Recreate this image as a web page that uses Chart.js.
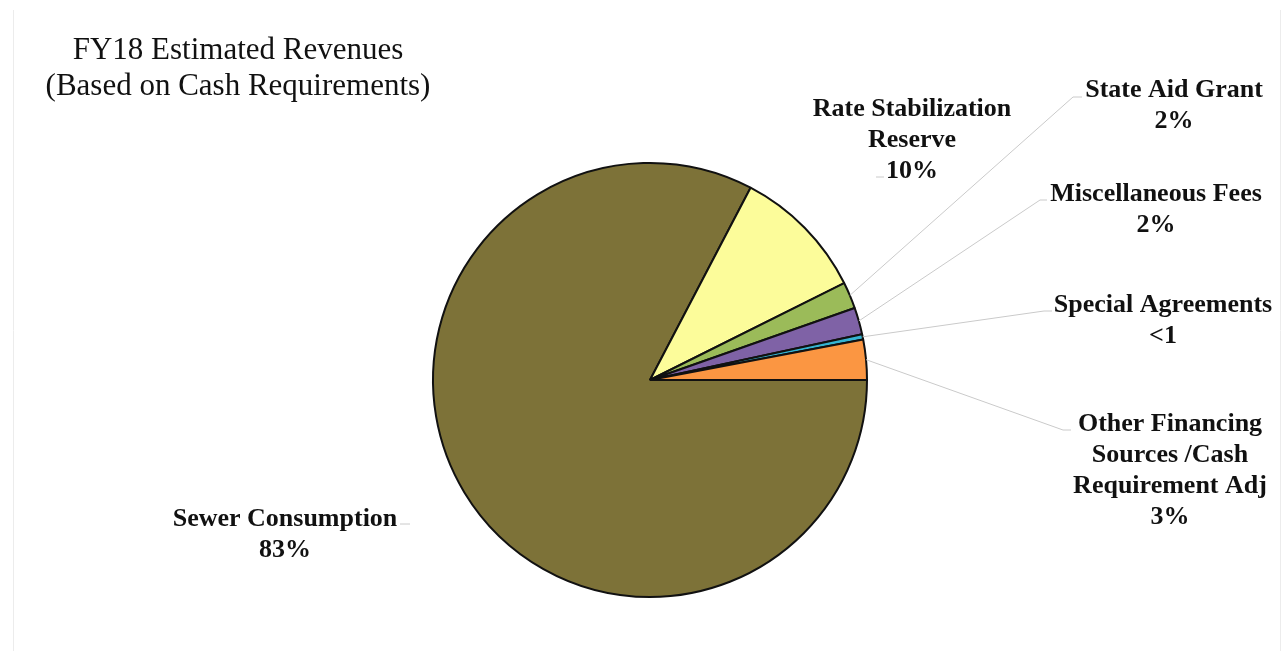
<!DOCTYPE html>
<html>
<head>
<meta charset="utf-8">
<title>FY18 Estimated Revenues</title>
<script src="https://cdn.jsdelivr.net/npm/chart.js@4.4.1/dist/chart.umd.min.js"></script>
<style>
  html, body { margin: 0; padding: 0; background: #fff; }
  #revenueChart { display: block; }
</style>
</head>
<body>
<canvas id="revenueChart" width="1285" height="651"></canvas>
<script>
// Revenue sources, in pie order (clockwise from 3 o'clock)
const categories = [
    'Sewer Consumption',
    'Rate Stabilization Reserve',
    'State Aid Grant',
    'Miscellaneous Fees',
    'Special Agreements',
    'Other Financing Sources /Cash Requirement Adj'
];
// Share of revenues, percent
const shares = [83, 10, 2, 2, 0.4, 3];
// Value text shown under each category name
const shareLabels = ['83%', '10%', '2%', '2%', '<1', '3%'];
// Category names broken into lines for the data labels
const labelLines = [
    ['Sewer Consumption'],
    ['Rate Stabilization', 'Reserve'],
    ['State Aid Grant'],
    ['Miscellaneous Fees'],
    ['Special Agreements'],
    ['Other Financing', 'Sources /Cash', 'Requirement Adj']
];
const sliceColors = ['#7d7238', '#fcfc9a', '#9bbb59', '#7f62a6', '#35b4d2', '#fb9642'];

// Where each data label sits: centre x, first baseline, and the little stub of the leader line
const labelLayout = [
    { cx: 285,  y: 526, stub: [400, 410, 524], leader: false },
    { cx: 912,  y: 116, stub: [876, 884, 177], leader: false },
    { cx: 1174, y: 97,  stub: [1073, 1082, 97], leader: true },
    { cx: 1156, y: 201, stub: [1040, 1047, 200], leader: true },
    { cx: 1163, y: 312, stub: [1044, 1052, 311], leader: true },
    { cx: 1170, y: 431, stub: [1063, 1071, 430], leader: true }
];

// Title, frame and data labels with leader lines
const annotatePlugin = {
    id: 'annotate',
    afterDatasetsDraw(chart) {
        const ctx = chart.ctx;
        ctx.save();

        // faint frame edges
        ctx.strokeStyle = '#ececec';
        ctx.lineWidth = 1;
        ctx.beginPath();
        ctx.moveTo(13.5, 10); ctx.lineTo(13.5, 651);
        ctx.moveTo(1280.5, 10); ctx.lineTo(1280.5, 651);
        ctx.stroke();

        // title
        ctx.fillStyle = '#111';
        ctx.font = '31px "Liberation Serif", "Times New Roman", serif';
        ctx.textAlign = 'center';
        ctx.textBaseline = 'alphabetic';
        ctx.fillText('FY18 Estimated Revenues', 238, 59);
        ctx.fillText('(Based on Cash Requirements)', 238, 95);

        // leader lines
        const arcs = chart.getDatasetMeta(0).data;
        ctx.strokeStyle = '#cacaca';
        ctx.lineWidth = 1;
        arcs.forEach((arc, i) => {
            const lay = labelLayout[i];
            const p = arc.getProps(['x', 'y', 'startAngle', 'endAngle', 'outerRadius'], true);
            const mid = (p.startAngle + p.endAngle) / 2;
            const ex = p.x + Math.cos(mid) * p.outerRadius;
            const ey = p.y + Math.sin(mid) * p.outerRadius;
            ctx.beginPath();
            if (lay.leader) {
                ctx.moveTo(ex, ey);
                ctx.lineTo(lay.stub[0], lay.stub[2]);
            } else {
                ctx.moveTo(lay.stub[0], lay.stub[2]);
            }
            ctx.lineTo(lay.stub[1], lay.stub[2]);
            ctx.stroke();
        });

        // label text
        ctx.fillStyle = '#111';
        ctx.font = 'bold 26px "Liberation Serif", "Times New Roman", serif';
        const lineHeight = 31;
        categories.forEach((name, i) => {
            const lay = labelLayout[i];
            const lines = labelLines[i].concat([shareLabels[i]]);
            lines.forEach((txt, j) => {
                ctx.fillText(txt, lay.cx, lay.y + j * lineHeight);
            });
        });

        ctx.restore();
    }
};

const ctx = document.getElementById('revenueChart').getContext('2d');
new Chart(ctx, {
    type: 'pie',
    data: {
        labels: categories,
        datasets: [{
            data: shares,
            backgroundColor: sliceColors,
            borderColor: '#111',
            borderWidth: 2
        }]
    },
    options: {
        responsive: false,
        animation: false,
        rotation: 90,
        layout: {
            padding: { top: 162, bottom: 53, left: 432, right: 417 }
        },
        plugins: {
            legend: { display: false },
            tooltip: { enabled: false },
            title: { display: false }
        }
    },
    plugins: [annotatePlugin]
});
</script>
</body>
</html>
